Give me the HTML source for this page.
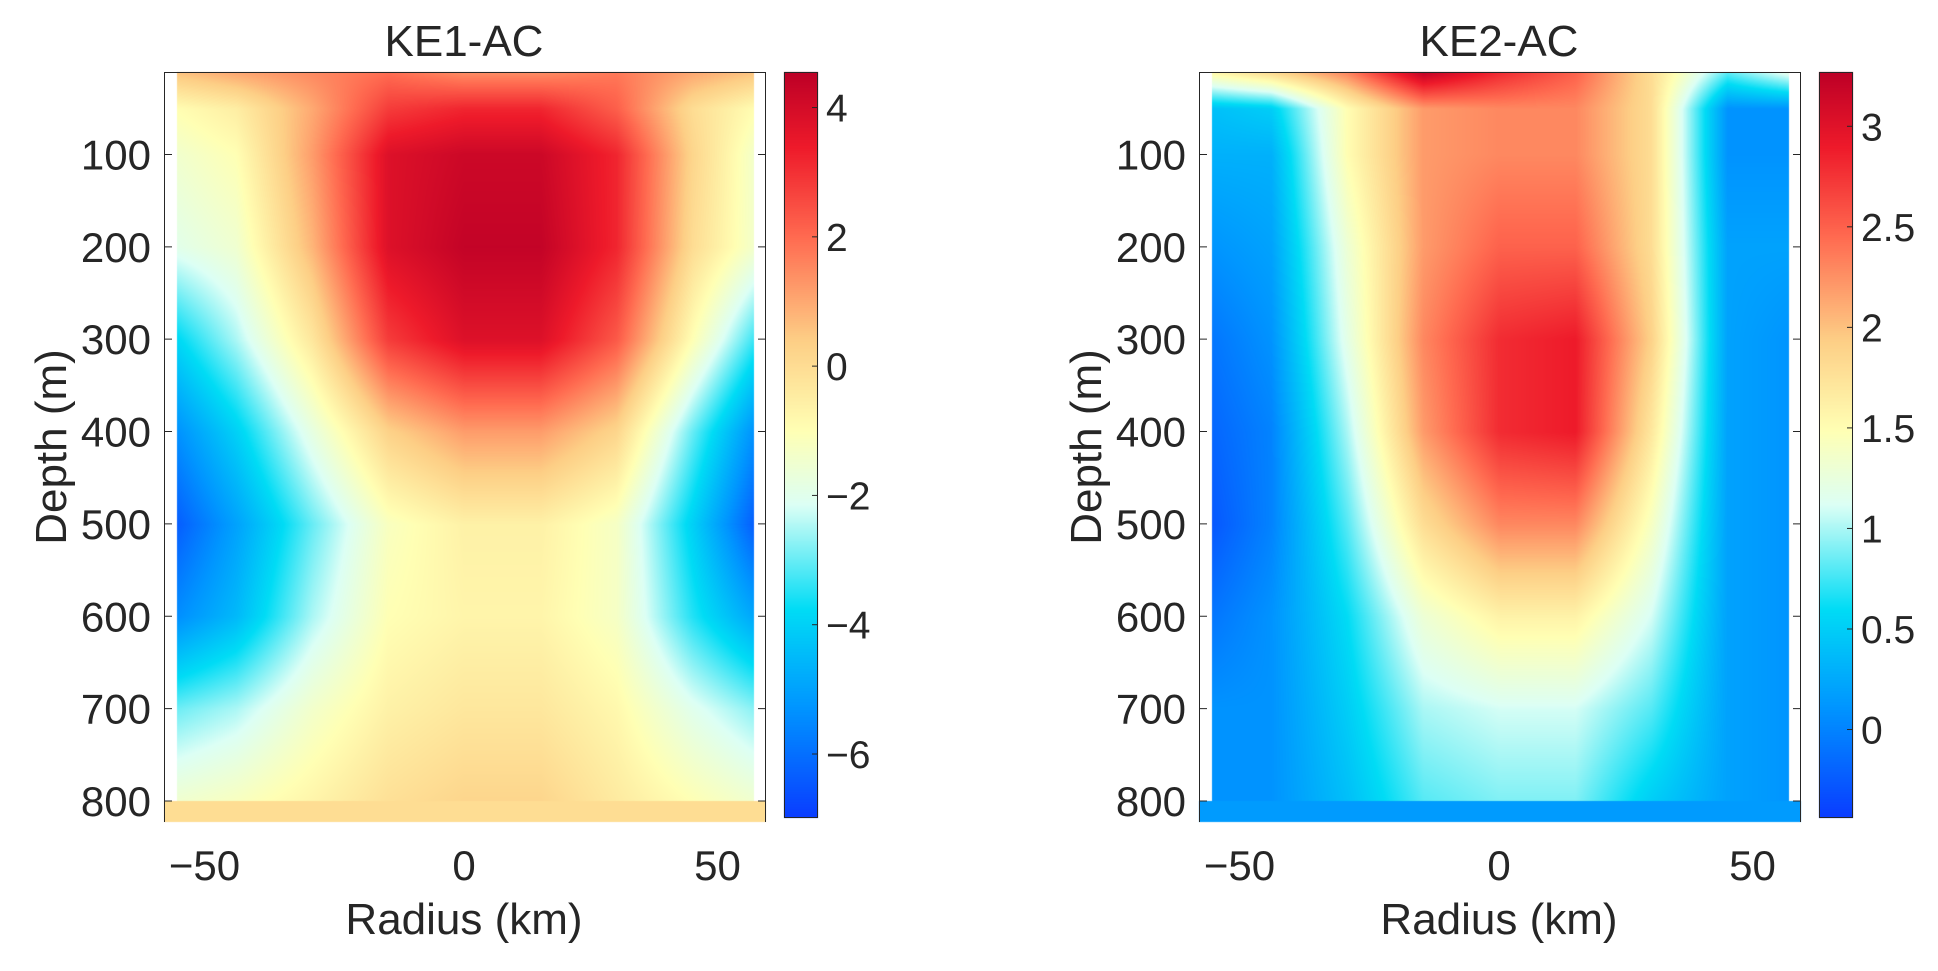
<!DOCTYPE html>
<html><head><meta charset="utf-8">
<style>
html,body{margin:0;padding:0;background:#fff;width:1938px;height:971px;overflow:hidden}
#wrap{position:relative;width:1938px;height:971px}
canvas,svg{position:absolute;left:0;top:0}
text{font-family:"Liberation Sans",Arial,sans-serif;fill:#262626}
</style></head>
<body>
<div id="wrap">
<canvas id="cv" width="1938" height="971"></canvas>
<svg id="sv" width="1938" height="971"></svg>
</div>
<script>
// ---- data ----
const radii = [-58,-45,-30,-15,0,15,30,45,58];
const depths = [12,50,100,200,300,400,500,600,700,800];
const ke1Values = [
 [0.5,1,1.5,2,1.5,1.5,1.8,1,0.5],
 [-1,-0.5,1,2.8,3.2,3.2,2.2,0,-1],
 [-1.5,-1,1.2,3.8,4.2,4.2,3.2,0.2,-1.5],
 [-2,-1.5,0.8,3.8,4.4,4.4,3.2,0,-1.5],
 [-4,-2.5,-0.3,2.8,3.8,3.8,2.3,-1,-3.5],
 [-5.5,-4,-1.8,0.3,1.2,1.2,0.2,-3,-5.5],
 [-6.5,-5,-3,-1.2,-0.6,-0.6,-1.3,-4,-6.5],
 [-5.5,-4.5,-2.5,-1,-0.7,-0.7,-1.3,-3.5,-5],
 [-3,-2.5,-1.4,-0.6,-0.3,-0.3,-0.8,-2,-2.8],
 [-1.5,-1.2,-0.7,-0.1,0.2,0.2,-0.4,-1,-1.5]
];
const ke2Values = [
 [1.5,1.8,2.3,3.2,2.8,2.5,1.8,0.8,1.2],
 [0.4,0.5,1.5,2.2,2.3,2.3,1.8,0.1,0.1],
 [0.3,0.3,1.5,2.2,2.3,2.3,1.8,0.1,0.1],
 [0.1,0.2,1.3,2.2,2.5,2.5,1.8,0.2,0.2],
 [-0.1,0.1,1.2,2.3,2.8,2.9,1.9,0.2,0.1],
 [-0.2,0,1,2.2,2.8,2.9,1.7,0.2,0.1],
 [-0.3,0,0.8,1.8,2.3,2.3,1.4,0.2,0.1],
 [-0.1,0.1,0.6,1.3,1.6,1.6,1.1,0.2,0.1],
 [0.1,0.1,0.5,1.0,1.1,1.1,0.8,0.2,0.1],
 [0.1,0.1,0.4,0.8,0.9,0.9,0.5,0.2,0.1]
];
const bandValues = [0, 0.15];
const titles = ["KE1-AC","KE2-AC"];
const depthTicks = [100,200,300,400,500,600,700,800];
const radiusTicks = [-50,0,50];
const cbTicks1 = [4,2,0,-2,-4,-6];
const cbTicks2 = [3,2.5,2,1.5,1,0.5,0];
const cbRanges = [[-6.99,4.55],[-0.44,3.27]];

// ---- layout ----
const panels = [
 {ox:0, values:ke1Values, band:bandValues[0], ticks:cbTicks1, range:cbRanges[0], title:titles[0]},
 {ox:1035, values:ke2Values, band:bandValues[1], ticks:cbTicks2, range:cbRanges[1], title:titles[1]}
];
const AX_L=164, AX_R=766, AX_T=72, AX_B=822;
const CX=464, SX=5.07;
const xScale = r => CX + r*SX;
const yScale = d => 62.1 + d*0.9236;
const CB_L=784, CB_R=818, CB_T=72, CB_B=818;

const stops=[[0,[10,60,255]],[0.15,[0,150,255]],[0.28,[0,220,245]],[0.42,[220,255,245]],[0.52,[255,255,180]],[0.64,[253,207,134]],[0.78,[255,106,80]],[0.9,[238,26,42]],[1,[189,0,38]]];
function cmap(t){t=Math.max(0,Math.min(1,t));
 for(let i=1;i<stops.length;i++){if(t<=stops[i][0]){const a=stops[i-1],b=stops[i];const f=(t-a[0])/(b[0]-a[0]);return a[1].map((c,k)=>Math.round(c+(b[1][k]-c)*f));}}
 return stops[stops.length-1][1];}
function idx(arr,v){if(v<=arr[0])return[0,0];if(v>=arr[arr.length-1])return[arr.length-2,1];
 for(let i=0;i<arr.length-1;i++){if(v<=arr[i+1])return[i,(v-arr[i])/(arr[i+1]-arr[i])];}}
function interp(vals,r,d){const[i,fx]=idx(radii,r);const[j,fy]=idx(depths,d);
 const a=vals[j][i],b=vals[j][i+1],c=vals[j+1][i],e=vals[j+1][i+1];
 return (a*(1-fx)+b*fx)*(1-fy)+(c*(1-fx)+e*fx)*fy;}

const cv=document.getElementById('cv');const ctx=cv.getContext('2d');
const img=ctx.createImageData(1938,971);
function put(x,y,col){const p=(y*1938+x)*4;img.data[p]=col[0];img.data[p+1]=col[1];img.data[p+2]=col[2];img.data[p+3]=255;}
for(let p=0;p<img.data.length;p+=4){img.data[p]=255;img.data[p+1]=255;img.data[p+2]=255;img.data[p+3]=255;}
panels.forEach(P=>{
 const [lo,hi]=P.range;
 const x0=Math.round(xScale(-56.6)), x1=Math.round(xScale(57.2));
 const yb=Math.round(yScale(800));
 for(let y=AX_T;y<yb;y++){const d=(y-62.1)/0.9236;
  for(let x=x0;x<x1;x++){const r=(x-CX)/SX;const v=interp(P.values,r,d);put(x+P.ox,y,cmap((v-lo)/(hi-lo)));}}
 const bc=cmap((P.band-lo)/(hi-lo));
 for(let y=yb;y<AX_B;y++)for(let x=AX_L;x<AX_R;x++)put(x+P.ox,y,bc);
 for(let y=CB_T;y<CB_B;y++){const t=(CB_B-y)/(CB_B-CB_T);const c=cmap(t);for(let x=CB_L;x<CB_R;x++)put(x+P.ox,y,c);}
});
ctx.putImageData(img,0,0);

const sv=document.getElementById('sv');const NS="http://www.w3.org/2000/svg";
function el(tag,attrs,txt){const e=document.createElementNS(NS,tag);for(const k in attrs)e.setAttribute(k,attrs[k]);if(txt!==undefined)e.textContent=txt;sv.appendChild(e);return e;}
panels.forEach((P,pi)=>{
 const o=P.ox;const [lo,hi]=P.range;
 let e=el('text',{x:CX+o,y:56,'font-size':44,'text-anchor':'middle'},P.title);
 
 e=el('path',{d:`M${AX_L+o+0.5},${AX_B}V${AX_T+0.5}H${AX_R+o-0.5}V${AX_B}`,fill:'none',stroke:'#262626','stroke-width':1});
 
 depthTicks.forEach(d=>{const y=yScale(d);
  el('path',{d:`M${AX_L+o},${y}h8M${AX_R+o},${y}h-8`,stroke:'#262626','stroke-width':1});
  e=el('text',{x:151+o,y:y+15,'font-size':42,'text-anchor':'end'},String(d));
  });
 radiusTicks.forEach(r=>{
  e=el('text',{x:xScale(r)+o-(r<0?6:0),y:880,'font-size':42,'text-anchor':'middle'},r<0?'\u2212'+Math.abs(r):String(r));
  });
 e=el('text',{x:CX+o,y:934,'font-size':44,'text-anchor':'middle'},'Radius (km)');
 
 e=el('text',{x:0,y:0,'font-size':44,'text-anchor':'middle',transform:`translate(${66+o},447) rotate(-90)`},'Depth (m)');
 
 e=el('rect',{x:CB_L+o+0.5,y:CB_T+0.5,width:CB_R-CB_L-1,height:CB_B-CB_T-1,fill:'none',stroke:'#262626','stroke-width':1});
 
 P.ticks.forEach(v=>{const y=CB_B-(v-lo)/(hi-lo)*(CB_B-CB_T);
  el('path',{d:`M${CB_R+o},${y}h-6`,stroke:'#262626','stroke-width':1});
  e=el('text',{x:CB_R+o+8,y:y+14,'font-size':39},v<0?'\u2212'+Math.abs(v):String(v));
  });
});
</script>
</body></html>
